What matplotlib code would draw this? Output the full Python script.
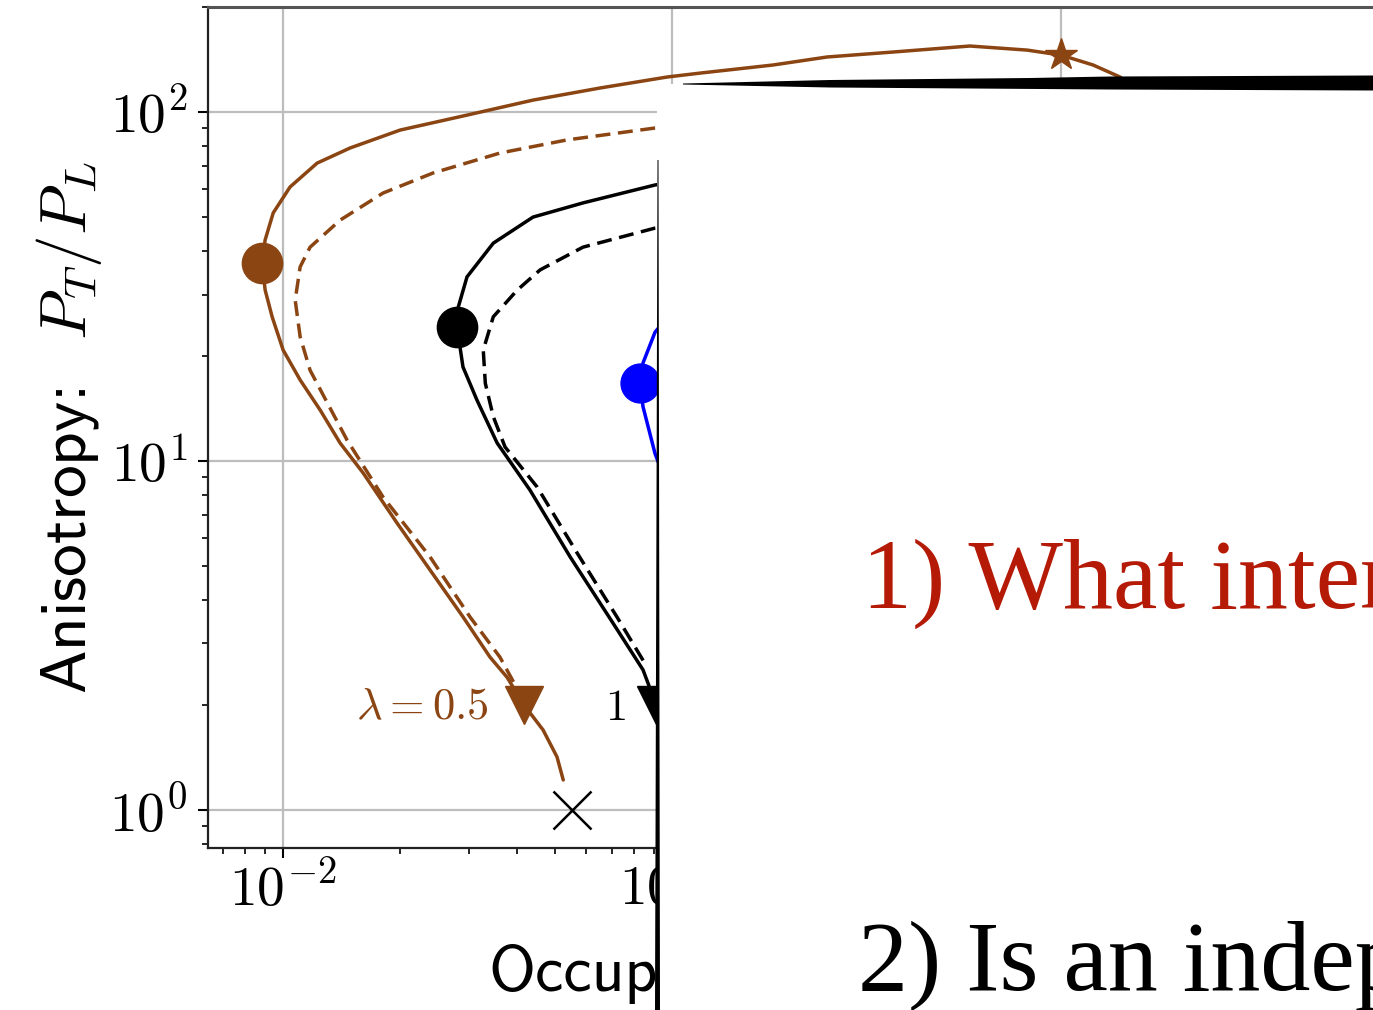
import numpy as np
import matplotlib
matplotlib.use("Agg")
import matplotlib.pyplot as plt
from matplotlib.patches import Rectangle, Polygon
from matplotlib.ticker import FuncFormatter, LogLocator, NullFormatter

plt.rcParams['mathtext.fontset'] = 'cm'

W, H = 1373, 1010
BROWN = '#8B4513'
RED = '#B41A06'

# ---- curves: occupancy (x) vs anisotropy P_T/P_L (y) ----
# lambda = 0.5, full kinetic evolution
occ_l05 = [1.693, 1.418, 1.209, 1.0, 0.818, 0.583, 0.370, 0.2503, 0.1818,
           0.1180, 0.0971, 0.0653, 0.0439, 0.0297, 0.0200, 0.01487, 0.01223,
           0.01042, 0.00943, 0.00899, 0.00883, 0.00899, 0.00937, 0.0100,
           0.01106, 0.01245, 0.01401, 0.01606, 0.01963, 0.02387, 0.02903,
           0.03404, 0.03765, 0.0416, 0.0466, 0.0506, 0.0525]
ani_l05 = [108.2, 126.0, 136.4, 145.6, 150.5, 154.6, 148.6, 143.8, 136.4,
           129.3, 126.0, 117.2, 108.2, 98.0, 88.8, 78.9, 71.4,
           61.0, 51.4, 43.0, 37.0, 30.9, 25.9, 20.8,
           17.07, 14.0, 11.26, 9.24, 6.64, 4.87, 3.57,
           2.74, 2.40, 2.0, 1.695, 1.419, 1.219]
# lambda = 0.5, dashed comparison
occ_l05_d = [0.118, 0.0904, 0.0537, 0.0361, 0.0243, 0.01807, 0.01401, 0.01173,
             0.01106, 0.01074, 0.01106, 0.01173, 0.01298, 0.0146, 0.01807,
             0.02387, 0.03025, 0.0361, 0.0395]
ani_l05_d = [92.4, 90.0, 83.2, 76.3, 66.9, 58.6, 49.0, 41.0,
             36.0, 28.9, 22.7, 18.2, 14.7, 11.48, 7.88,
             5.31, 3.57, 2.74, 2.28]
# lambda = 1
occ_l1 = [0.118, 0.0904, 0.0590, 0.0439, 0.0347, 0.0297, 0.0282, 0.0280,
          0.0290, 0.0315, 0.0355, 0.0431, 0.0547, 0.0705, 0.0842, 0.0910,
          0.0988]
ani_l1 = [64.7, 61.8, 54.9, 50.0, 42.1, 33.7, 27.6, 24.2,
          18.6, 14.95, 11.26, 8.26, 5.31, 3.43, 2.52, 2.0,
          1.59]
occ_l1_d = [0.118, 0.0904, 0.0590, 0.0458, 0.0400, 0.0347, 0.0327, 0.0331,
            0.0347, 0.0372, 0.0450, 0.0570, 0.0722, 0.0862]
ani_l1_d = [48.4, 46.5, 41.0, 35.3, 30.9, 25.9, 20.8, 16.7,
            13.4, 10.97, 8.42, 5.45, 3.57, 2.57]
# next coupling (blue)
occ_l2 = [0.111, 0.0904, 0.0842, 0.0827, 0.0842, 0.0904, 0.105]
ani_l2 = [30.9, 23.4, 19.1, 16.7, 14.3, 10.5, 6.78]

# markers
star_pt = (1.0, 145.6)
circ_l05 = (0.00883, 37.0)
circ_l1 = (0.0280, 24.2)
circ_l2 = (0.0827, 16.7)
tri_l05 = (0.0416, 2.0)
tri_l1 = (0.0910, 2.0)
equil_pt = (0.0553, 1.0)


def fx(px):
    return px / W


def fy(py):
    return 1 - py / H


fig = plt.figure(figsize=(W / 100, H / 100), dpi=100)
ax = fig.add_axes([fx(208), fy(848), (1450 - 208) / W, (848 - 7) / H])
ax.set_xscale('log')
ax.set_yscale('log')
ax.set_xlim(0.00641, 10)
ax.set_ylim(0.778, 200)

ax.grid(True, which='major', color='#bdbdbd', lw=1.6)
ax.set_axisbelow(True)

lw = 2.5
dash = (4.3, 2.2)
style = dict(lw=lw, solid_joinstyle='round', solid_capstyle='round')
ax.plot(occ_l05, ani_l05, color=BROWN, **style)
ax.plot(occ_l05_d, ani_l05_d, color=BROWN, lw=lw, dashes=dash)
ax.plot(occ_l1, ani_l1, color='black', **style)
ax.plot(occ_l1_d, ani_l1_d, color='black', lw=lw, dashes=dash)
ax.plot(occ_l2, ani_l2, color='blue', **style)

ax.plot(*star_pt, marker='*', color=BROWN, ms=24)
ax.plot(*circ_l05, marker='o', color=BROWN, ms=29)
ax.plot(*circ_l1, marker='o', color='black', ms=29)
ax.plot(*circ_l2, marker='o', color='blue', ms=28)
ax.plot(*tri_l05, marker='v', color=BROWN, ms=27)
ax.plot(*tri_l1, marker='v', color='black', ms=27)
ax.plot(*equil_pt, marker='x', color='black', ms=27, mew=1.8)

ax.text(tri_l05[0] * 0.81, tri_l05[1] * 0.985, r'$\lambda=0.5$', color=BROWN,
        fontsize=32, ha='right', va='center')
ax.text(tri_l1[0] * 0.835, tri_l1[1] * 0.985, r'$1$', color='black',
        fontsize=32, ha='right', va='center')

fmt = FuncFormatter(lambda v, _: r'$10^{%d}$' % int(round(np.log10(v))))
for axis in (ax.xaxis, ax.yaxis):
    axis.set_major_locator(LogLocator(base=10, numticks=20))
    axis.set_minor_locator(LogLocator(base=10, subs=np.arange(2, 10), numticks=20))
    axis.set_major_formatter(fmt)
    axis.set_minor_formatter(NullFormatter())
ax.tick_params(which='major', length=7, width=1.5, labelsize=40)
ax.tick_params(axis='x', which='major', pad=4)
ax.tick_params(axis='y', which='major', pad=8)
ax.tick_params(which='minor', length=4, width=1.2)
for s in ax.spines.values():
    s.set_color('#222222')
    s.set_linewidth(1.6)
ax.spines['top'].set_color('#555555')
ax.spines['top'].set_linewidth(2.2)

ax.set_ylabel(r'Anisotropy:  $P_T/P_L$', family='cmss10', fontsize=47,
              labelpad=4)
ax.set_xlabel('Occupancy', family='cmss10', fontsize=46)
ax.xaxis.label.set_ha('left')
ax.xaxis.label.set_va('baseline')
ax.xaxis.set_label_coords((488 - 208) / (1450 - 208), -(990 - 848) / (848 - 7))

# slide overlay: white panel, pointer wedge and divider line
fig.add_artist(Rectangle((fx(657), 0), 1 - fx(657), fy(84),
                         transform=fig.transFigure, facecolor='white',
                         edgecolor='none', zorder=10))
wedge = [(683, 83.5), (830, 80), (1030, 78), (1110, 76.5), (1373, 75.5),
         (1373, 90.5), (1110, 89.5), (830, 87.5), (683, 84.5)]
fig.add_artist(Polygon([(fx(a), fy(b)) for a, b in wedge], closed=True,
                       transform=fig.transFigure, facecolor='black',
                       edgecolor='none', zorder=11))
vline = [(657.5, 160), (658.5, 160), (660, 1010), (655, 1010)]
fig.add_artist(Polygon([(fx(a), fy(b)) for a, b in vline], closed=True,
                       transform=fig.transFigure, facecolor='black',
                       edgecolor='none', zorder=11))

fig.text(fx(862), fy(608), '1) What interactions drive isotropization?',
         family='Liberation Serif', fontsize=72, color=RED,
         ha='left', va='baseline', zorder=12)
fig.text(fx(858), fy(990), '2) Is an independent description possible?',
         family='Liberation Serif', fontsize=72, color='black',
         ha='left', va='baseline', zorder=12)

fig.savefig('out.png', dpi=100)
